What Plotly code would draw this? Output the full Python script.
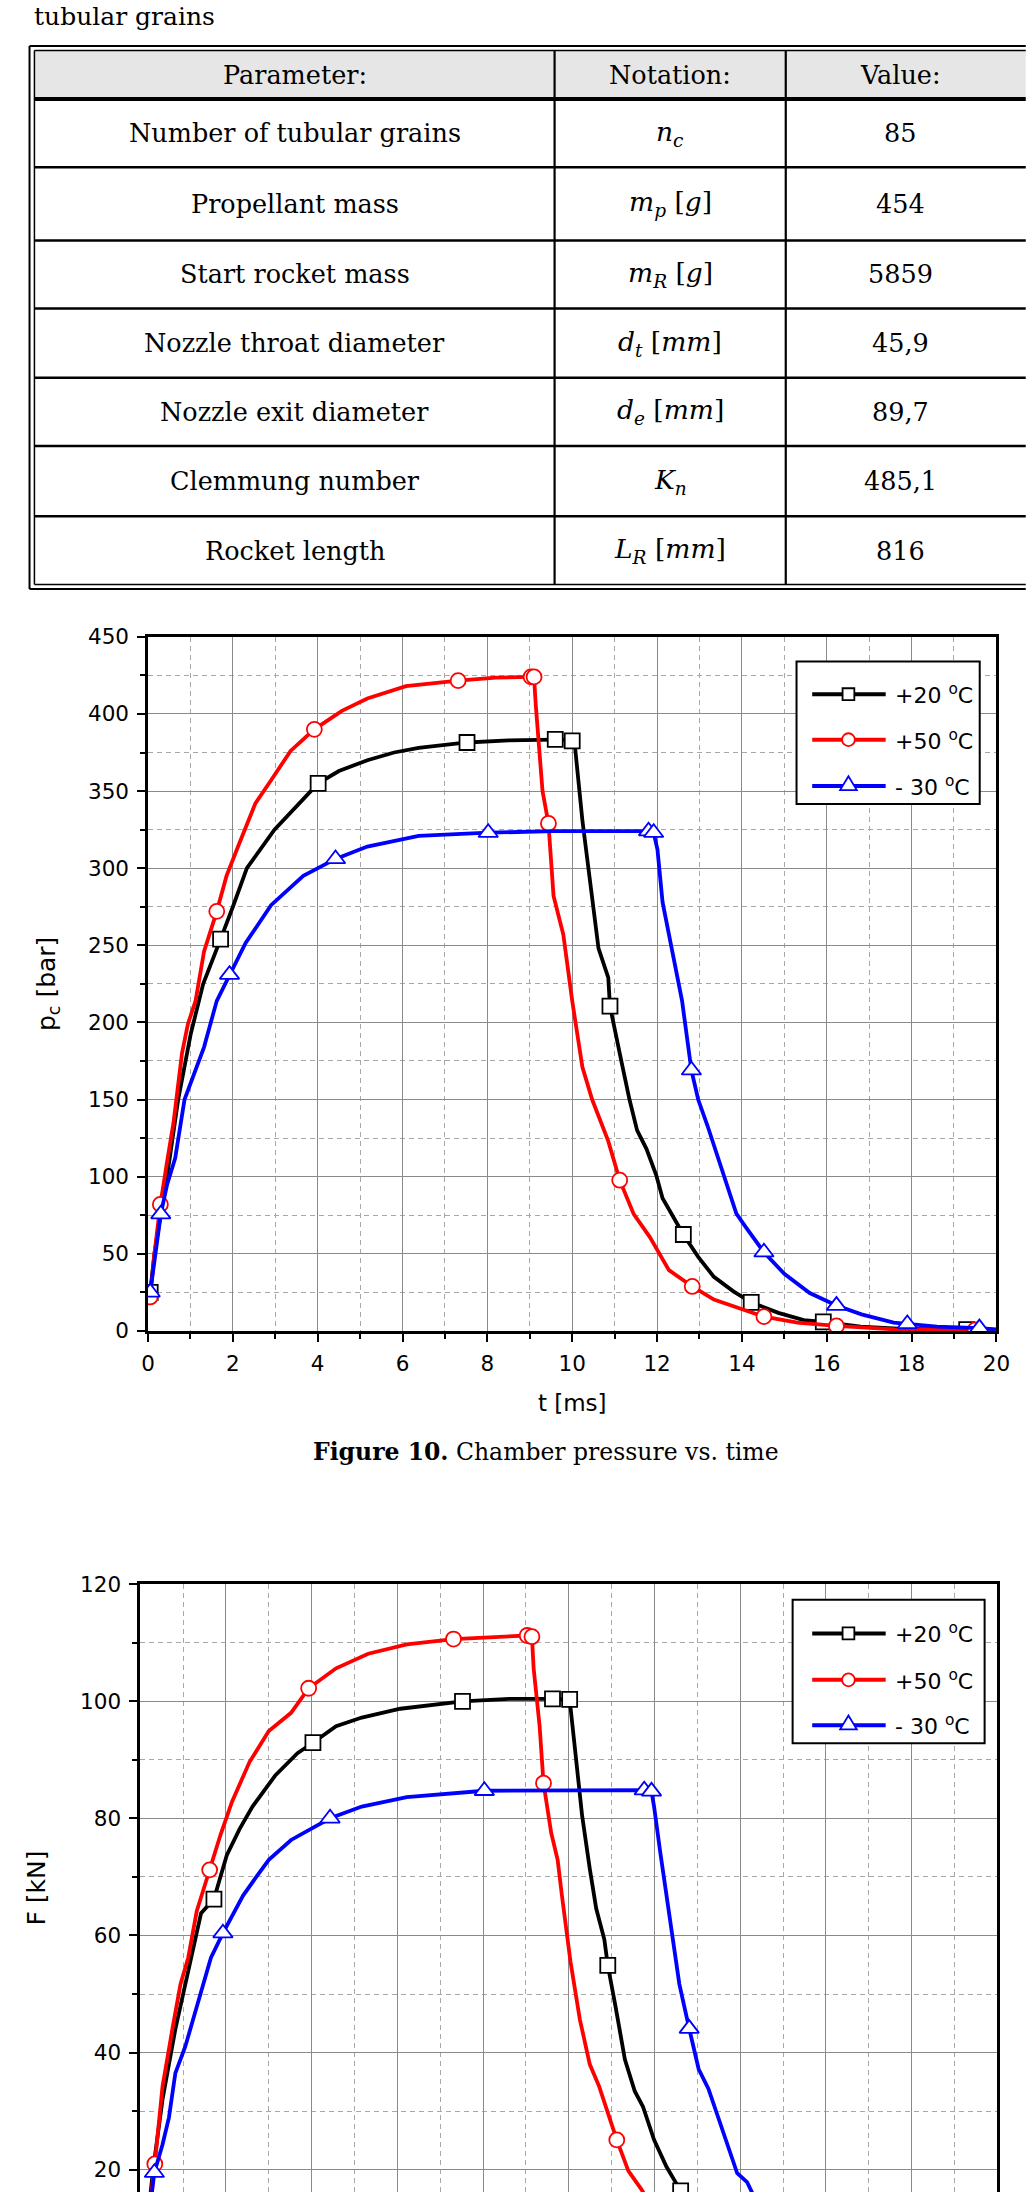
import plotly.graph_objects as go

W, H = 1028, 2205


def px(x):
    return x / W


def py(y):
    return 1 - y / H


SANS = "DejaVu Sans"
SERIF = "DejaVu Serif"

# ---------------- table data ----------------
TABLE_TOP_TEXT = "tubular grains"
TABLE_HEAD = ["Parameter:", "Notation:", "Value:"]
PARAMS = ["Number of tubular grains", "Propellant mass", "Start rocket mass",
          "Nozzle throat diameter", "Nozzle exit diameter", "Clemmung number",
          "Rocket length"]
NOTATION = ["<i>n</i><sub><i>c</i></sub>",
            "<i>m</i><sub><i>p</i></sub> [<i>g</i>]",
            "<i>m</i><sub><i>R</i></sub> [<i>g</i>]",
            "<i>d</i><sub><i>t</i></sub> [<i>mm</i>]",
            "<i>d</i><sub><i>e</i></sub> [<i>mm</i>]",
            "<i>K</i><sub><i>n</i></sub>",
            "<i>L</i><sub><i>R</i></sub> [<i>mm</i>]"]
VALUES = ["85", "454", "5859", "45,9", "89,7", "485,1", "816"]

# ---------------- chart data ----------------
SERIES_NAMES = ["+20 <sup>o</sup>C", "+50 <sup>o</sup>C", "- 30 <sup>o</sup>C"]
SERIES_COLORS = ["#000000", "#ff0000", "#0000ff"]
SERIES_SYMBOLS = ["square", "circle", "triangle-up"]

# Chamber pressure p_c [bar] vs t [ms]
T20 = [0, 0.05, 0.15, 0.33, 0.5, 0.71, 1.01, 1.3, 1.5, 1.71, 2.0, 2.33, 2.98, 3.5, 4.01, 4.5,
       5.17, 5.8, 6.38, 7.0, 7.52, 8.5, 9.6, 9.95, 10.0, 10.05, 10.24, 10.39, 10.62, 10.85,
       10.89, 11.15, 11.35, 11.53, 11.75, 11.98, 12.13, 12.62, 12.97, 13.34, 13.8, 14.22,
       14.86, 15.46, 15.92, 16.8, 17.9, 19.3, 20]
P20 = [30, 25, 50, 80, 110, 150, 193, 225, 240, 254, 275, 300, 325, 340, 355, 363,
       370, 375, 378, 380, 381.5, 382.8, 383.5, 383.5, 382.6, 383, 331, 299, 248, 229,
       210.6, 176, 150, 130, 118, 101, 86, 62.5, 48, 35, 25.6, 18.5,
       11.7, 7, 5.8, 2.8, 1.2, 0.8, 0.5]
M20 = [1, 9, 14, 20, 22, 24, 30, 37, 41, 44, 47]

T50 = [0, 0.05, 0.15, 0.29, 0.45, 0.6, 0.8, 0.94, 1.12, 1.32, 1.62, 1.85, 2.15, 2.53, 2.9,
       3.36, 3.92, 4.57, 5.17, 6.08, 7.31, 8.2, 9.03, 9.1, 9.14, 9.3, 9.44, 9.56, 9.79, 10.0,
       10.24, 10.47, 10.85, 11.12, 11.45, 11.83, 12.28, 12.83, 13.34, 14.52, 15.31, 16.23,
       17.6, 19.5, 20]
P50 = [28, 22, 50, 82, 110, 135, 180, 199, 214, 246, 272, 295, 316, 342, 357,
       376, 390, 402, 410, 418, 421.6, 423.6, 424, 424, 406, 350, 329, 282, 257, 214,
       171, 150, 123, 97.7, 75.7, 60.8, 39.4, 28.8, 20.3, 9.2, 5.3, 3.2,
       1, 0.6, 0.4]
M50 = [1, 3, 10, 16, 20, 22, 23, 26, 33, 37, 39, 41, 43]

T30 = [0, 0.05, 0.15, 0.3, 0.45, 0.64, 0.86, 1.09, 1.32, 1.62, 1.92, 2.3, 2.9, 3.66, 4.42,
       5.17, 6.38, 8.02, 9.56, 11.8, 11.92, 12.01, 12.13, 12.28, 12.59, 12.81, 12.97, 13.19,
       13.57, 13.87, 14.1, 14.52, 15.0, 15.6, 16.23, 16.82, 17.58, 17.9, 18.6, 19.6, 20]
P30 = [30, 25, 45, 75.7, 95, 112, 150, 167, 184, 214, 231, 251.5, 276, 295, 306,
       314, 321, 323, 324, 324, 323, 312, 278, 257, 214, 169, 150, 133,
       101, 76, 67, 51, 37, 24.5, 16.4, 10.7, 5.3, 4.5, 2.8, 1.8, 1]
M30 = [1, 3, 10, 14, 17, 19, 20, 25, 31, 34, 37, 39]

# Thrust F [kN] vs t [ms]
FT20 = [0, 0.1, 0.3, 0.52, 0.82, 1.12, 1.42, 1.72, 2.02, 2.32, 2.62, 3.15, 3.67, 4.03, 4.57,
        5.17, 6.07, 7.52, 8.61, 9.62, 10.02, 10.11, 10.31, 10.49, 10.64, 10.83, 10.91, 11.09,
        11.31, 11.54, 11.73, 11.99, 12.28, 12.61, 13.0, 13.5]
F20 = [8, 6.5, 20, 32, 44, 54, 63.8, 66.2, 73.7, 78.2, 82, 87.3, 91.1, 92.9, 95.7,
       97.2, 98.7, 99.95, 100.4, 100.4, 100.3, 94.2, 80.5, 71.4, 64.6, 59.3, 54.9, 47.9,
       38.8, 33.4, 30.8, 25.1, 20.5, 16.4, 12, 8]
MF20 = [1, 7, 13, 17, 19, 20, 26, 33]

FT50 = [0, 0.1, 0.34, 0.52, 0.75, 0.94, 1.12, 1.32, 1.5, 1.62, 1.87, 2.14, 2.55, 3.0, 3.52,
        3.93, 4.57, 5.32, 6.22, 7.31, 8.31, 9.03, 9.14, 9.18, 9.32, 9.41, 9.59, 9.74, 9.84,
        10.04, 10.26, 10.49, 10.71, 11.12, 11.39, 11.69, 12.0, 12.5]
F50 = [7, 6, 21, 34.2, 44, 51.7, 56.2, 64.2, 68.4, 71.2, 77.1, 82.8, 89.6, 94.9, 98,
       102.2, 105.6, 108.1, 109.7, 110.6, 111, 111.2, 111, 105.6, 95.7, 86, 77.5, 72.9, 66.8,
       55.5, 45.6, 38, 34.2, 25.1, 19.8, 16.7, 13, 9]
MF50 = [2, 9, 15, 19, 21, 22, 25, 33]

FT30 = [0, 0.1, 0.33, 0.52, 0.67, 0.82, 1.05, 1.2, 1.42, 1.65, 1.93, 2.17, 2.4, 2.7, 3.0,
        3.52, 4.43, 5.17, 6.22, 8.03, 9.66, 11.76, 11.93, 11.99, 12.13, 12.28, 12.43, 12.58,
        12.81, 13.03, 13.26, 13.56, 13.93, 14.16, 14.31, 14.8]
F30 = [7, 6, 19.5, 24.3, 28.9, 36.5, 41, 44.8, 50.9, 56.2, 60.4, 63.8, 66.8, 69.9, 72.9,
       76.3, 80, 82, 83.6, 84.7, 84.8, 84.8, 84.6, 82, 74.4, 66.8, 58.5, 51.7,
       44.1, 37.2, 33.8, 27.4, 19.4, 17.9, 15.6, 11]
MF30 = [2, 10, 16, 19, 21, 22, 28]

PRESSURE = [(T20, P20, M20), (T50, P50, M50), (T30, P30, M30)]
THRUST = [(FT20, F20, MF20), (FT50, F50, MF50), (FT30, F30, MF30)]

fig = go.Figure()

for (xa, ya, data) in [("x", "y", PRESSURE), ("x2", "y2", THRUST)]:
    for k, (t, v, m) in enumerate(data):
        col = SERIES_COLORS[k]
        fig.add_trace(go.Scatter(x=t, y=v, mode="lines", xaxis=xa, yaxis=ya,
                                 name=SERIES_NAMES[k], legendgroup=str(k),
                                 line=dict(color=col, width=3.8), showlegend=False,
                                 hoverinfo="skip"))
        fig.add_trace(go.Scatter(x=[t[i] for i in m], y=[v[i] for i in m], mode="markers",
                                 xaxis=xa, yaxis=ya, showlegend=False,
                                 name=SERIES_NAMES[k], legendgroup=str(k),
                                 marker=dict(symbol=SERIES_SYMBOLS[k],
                                             size=15 if k != 2 else 17, color="white",
                                             line=dict(color=col, width=1.8))))

# ---------------- chart geometry (pixels) ----------------
C1_L, C1_R, C1_T, C1_B = 144, 1010, 632, 1334
C2_L, C2_R, C2_T = 136, 1011, 1590
C2_ZERO = 2301  # pixel row where F = 0 would be (below the page)
c2_low = 120 * (C2_ZERO - H) / (C2_ZERO - C2_T)

tickfont = dict(family=SANS, size=21.5, color="black")
MINOR_GRID = dict(showgrid=True, griddash="5px,4px", gridcolor="#a8a8a8", gridwidth=1)
common_x = dict(range=[0, 20], dtick=2, tick0=0, showgrid=True, gridcolor="#8a8a8a",
                gridwidth=1.2, zeroline=False, showline=True, linecolor="black",
                linewidth=2.5, tickfont=tickfont, tickcolor="black",
                ticklabeloverflow="allow")
common_y = dict(showgrid=True, gridcolor="#8a8a8a", gridwidth=1.2, zeroline=False,
                showline=True, linecolor="black", linewidth=2.5, mirror=True,
                tickfont=tickfont, ticks="outside", ticklen=8, tickwidth=2,
                tickcolor="black", ticklabelstandoff=4)

fig.update_layout(
    width=W, height=H, margin=dict(l=0, r=0, t=0, b=0),
    paper_bgcolor="white", plot_bgcolor="white", showlegend=False,
    xaxis=dict(**common_x, domain=[px(C1_L), px(C1_R)], anchor="y", mirror=True,
               ticks="outside", ticklen=8, tickwidth=2, ticklabelstandoff=4,
               minor=dict(**MINOR_GRID, dtick=1, ticks="outside", ticklen=5,
                          tickwidth=1.5, tickcolor="black"),
               title=dict(text="t [ms]", font=dict(family=SANS, size=23, color="black"),
                          standoff=20)),
    yaxis=dict(**common_y, domain=[py(C1_B), py(C1_T)], range=[0, 450], dtick=50,
               anchor="x",
               minor=dict(**MINOR_GRID, dtick=25, ticks="outside", ticklen=5,
                          tickwidth=1.5, tickcolor="black"),
               title=dict(text="p<sub>c</sub> [bar]",
                          font=dict(family=SANS, size=25, color="black"), standoff=26)),
    xaxis2=dict(**common_x, domain=[px(C2_L), px(C2_R)], anchor="y2", side="top",
                ticks="", showticklabels=False,
                minor=dict(**MINOR_GRID, dtick=1)),
    yaxis2=dict(**common_y, domain=[0, py(C2_T)], range=[c2_low, 120], dtick=20, tick0=0,
                anchor="x2",
                minor=dict(**MINOR_GRID, dtick=10, ticks="outside", ticklen=5,
                           tickwidth=1.5, tickcolor="black"),
                title=dict(text="F [kN]", font=dict(family=SANS, size=25, color="black"),
                           standoff=28)),
)

shapes = []
annotations = []


def P(x, y):
    return f"{px(x):.6f},{py(y):.6f}"


def hline(x0, x1, y, w):
    shapes.append(dict(type="line", xref="paper", yref="paper", x0=px(x0), x1=px(x1),
                       y0=py(y), y1=py(y), line=dict(color="black", width=w)))


def vline(x, y0, y1, w):
    shapes.append(dict(type="line", xref="paper", yref="paper", x0=px(x), x1=px(x),
                       y0=py(y0), y1=py(y1), line=dict(color="black", width=w)))


# ---------------- legends (drawn as boxes) ----------------
def draw_legend(x0, y0, x1, y1, rows):
    shapes.append(dict(type="rect", xref="paper", yref="paper", x0=px(x0), x1=px(x1),
                       y0=py(y1), y1=py(y0), fillcolor="white",
                       line=dict(color="black", width=2)))
    for k, ry in enumerate(rows):
        col = SERIES_COLORS[k]
        shapes.append(dict(type="line", xref="paper", yref="paper", x0=px(822), x1=px(897),
                           y0=py(ry), y1=py(ry), line=dict(color=col, width=4)))
        cx = 859
        if k == 0:
            shapes.append(dict(type="rect", xref="paper", yref="paper", x0=px(cx - 6),
                               x1=px(cx + 6), y0=py(ry + 6), y1=py(ry - 6),
                               fillcolor="white", line=dict(color=col, width=1.8)))
        elif k == 1:
            shapes.append(dict(type="circle", xref="paper", yref="paper", x0=px(cx - 6.5),
                               x1=px(cx + 6.5), y0=py(ry + 6.5), y1=py(ry - 6.5),
                               fillcolor="white", line=dict(color=col, width=1.8)))
        else:
            path = f"M{P(cx, ry - 10)} L{P(cx + 8.5, ry + 4)} L{P(cx - 8.5, ry + 4)} Z"
            shapes.append(dict(type="path", xref="paper", yref="paper", path=path,
                               fillcolor="white", line=dict(color=col, width=1.8)))
        annotations.append(dict(text=SERIES_NAMES[k], xref="paper", yref="paper",
                                x=px(904), y=py(ry), xanchor="left", yanchor="middle",
                                showarrow=False,
                                font=dict(family=SANS, size=22, color="black")))


draw_legend(806, 657, 993, 801, [690, 736, 783])
draw_legend(802, 1606, 998, 1751, [1640, 1687, 1733])

# ---------------- table drawing ----------------
TR = 1040
ROWS = [88, 157, 231, 300, 370, 439, 510, 580]
COLS = [28, 559, 795, TR]

shapes.append(dict(type="rect", xref="paper", yref="paper", x0=px(28), x1=px(TR),
                   y0=py(86), y1=py(39), fillcolor="#e6e6e6", line=dict(width=0),
                   layer="below"))
hline(23, TR, 34.5, 2)
hline(28, TR, 39, 1.5)
hline(23, TR, 583.5, 2)
hline(28, TR, 579, 1.5)
vline(23, 34.5, 583.5, 2)
vline(28, 39, 579, 1.5)
for i, y in enumerate(ROWS[:-1]):
    hline(28, TR, y, 4 if i == 0 else 2.5)
for x in COLS[1:3]:
    vline(x, 39, 579, 2.2)

row_tops = [39] + ROWS[:-1]
row_bots = ROWS
col_centers = [(COLS[0] + COLS[1]) / 2, (COLS[1] + COLS[2]) / 2, 912]


def cell_text(text, x, y, size=25.5):
    annotations.append(dict(text=text, xref="paper", yref="paper", x=px(x), y=py(y),
                            xanchor="center", yanchor="middle", showarrow=False,
                            font=dict(family=SERIF, size=size, color="black")))


for j, h in enumerate(TABLE_HEAD):
    cell_text(h, col_centers[j], (row_tops[0] + row_bots[0]) / 2)
for i in range(len(PARAMS)):
    yc = (row_tops[i + 1] + row_bots[i + 1]) / 2
    cell_text(PARAMS[i], col_centers[0], yc)
    cell_text(NOTATION[i], col_centers[1], yc, 26.5)
    cell_text(VALUES[i], col_centers[2], yc)

annotations.append(dict(text=TABLE_TOP_TEXT, xref="paper", yref="paper", x=px(26), y=py(5),
                        xanchor="left", yanchor="middle", showarrow=False,
                        font=dict(family=SERIF, size=25, color="black")))

annotations.append(dict(text="<b>Figure 10.</b> Chamber pressure vs. time", xref="paper",
                        yref="paper", x=px(550), y=py(1457), xanchor="center",
                        yanchor="middle", showarrow=False,
                        font=dict(family=SERIF, size=23.5, color="black")))

fig.update_layout(shapes=shapes, annotations=annotations)

fig.write_html("out.html")
